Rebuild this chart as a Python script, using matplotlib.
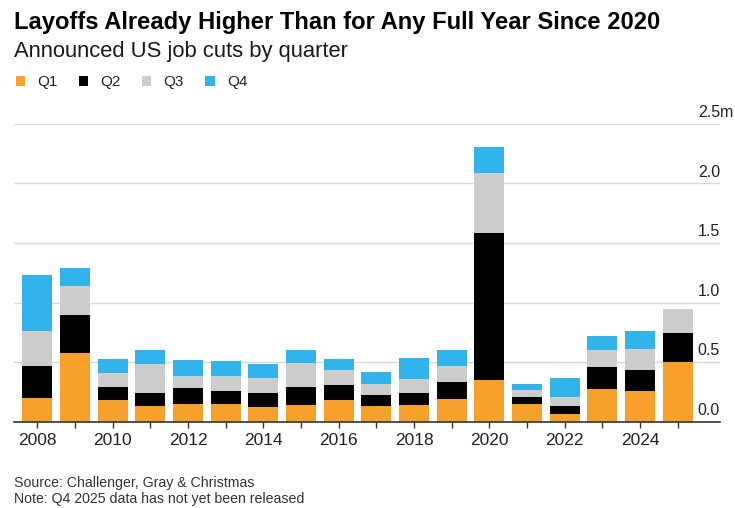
import matplotlib
matplotlib.use("Agg")
import matplotlib.pyplot as plt
from matplotlib.patches import Patch
import numpy as np

plt.rcParams['font.family'] = ['Liberation Sans', 'DejaVu Sans']

years = list(range(2008, 2026))
q1 = [0.20, 0.575, 0.18, 0.13, 0.145, 0.145, 0.12, 0.14, 0.18, 0.13, 0.14, 0.19, 0.35, 0.145, 0.06, 0.27, 0.255, 0.50]
q2 = [0.27, 0.32, 0.11, 0.11, 0.14, 0.11, 0.12, 0.15, 0.13, 0.095, 0.10, 0.14, 1.235, 0.06, 0.07, 0.185, 0.18, 0.245]
q3 = [0.29, 0.245, 0.12, 0.24, 0.10, 0.13, 0.125, 0.205, 0.125, 0.095, 0.12, 0.14, 0.50, 0.06, 0.08, 0.15, 0.175, 0.20]
q4 = [0.47, 0.15, 0.12, 0.125, 0.135, 0.125, 0.115, 0.105, 0.09, 0.10, 0.175, 0.13, 0.22, 0.055, 0.155, 0.115, 0.155, 0.0]

quarters = ["Q1", "Q2", "Q3", "Q4"]
colors = ["#F8A02C", "#000000", "#CCCCCC", "#31B4EC"]
yticks = [0.0, 0.5, 1.0, 1.5, 2.0, 2.5]
ylabels = ["0.0", "0.5", "1.0", "1.5", "2.0", "2.5"]

fig = plt.figure(figsize=(7.35, 5.08), dpi=100)
ax = fig.add_axes([0.019, 0.170, 0.9605, 0.586])

bottom = np.zeros(len(years))
for vals, c in zip([q1, q2, q3, q4], colors):
    ax.bar(years, vals, bottom=bottom, width=0.8, color=c, zorder=3)
    bottom += np.array(vals)

ax.set_xlim(2007.38, 2026.12)
ax.set_ylim(0, 2.5)

# gridlines, with the value labels sitting above them at the right end
ytrans = ax.get_yaxis_transform()
for v, lab in zip(yticks, ylabels):
    if v > 0:
        ax.axhline(v, color="#D9D9D9", lw=1, zorder=1)
    ax.annotate(lab, xy=(1.0, v), xycoords=ytrans, xytext=(0, 5),
                textcoords="offset points", ha="right", va="baseline",
                fontsize=11.5, color="#222222", annotation_clip=False)
# unit suffix hangs past the right edge on the top label
ax.annotate("m", xy=(1.0, yticks[-1]), xycoords=ytrans, xytext=(0, 5),
            textcoords="offset points", ha="left", va="baseline",
            fontsize=11.5, color="#222222", annotation_clip=False)

ax.set_yticks([])
for s in ["top", "right", "left"]:
    ax.spines[s].set_visible(False)
ax.spines["bottom"].set_color("#333333")
ax.spines["bottom"].set_linewidth(1.2)
ax.spines["bottom"].set_zorder(4)

ax.set_xticks(years[::2])
ax.set_xticks(years[1::2], minor=True)
ax.set_xticklabels([str(y) for y in years[::2]], fontsize=12.5, color="#222222")
ax.tick_params(axis="x", which="both", direction="out", length=4, width=1, color="#333333", pad=4.3)

# titles
fig.text(0.019, 0.943, "Layoffs Already Higher Than for Any Full Year Since 2020",
         fontsize=17.1, fontweight="bold", color="#000000", va="baseline")
fig.text(0.019, 0.887, "Announced US job cuts by quarter",
         fontsize=15.8, color="#1A1A1A", va="baseline")

handles = [Patch(facecolor=c, edgecolor="none") for c in colors]
fig.legend(handles, quarters, loc="center left", bbox_to_anchor=(16 / 735, 1 - 82.5 / 508),
           ncol=4, frameon=False, fontsize=11, handlelength=0.6, handleheight=0.6,
           handletextpad=0.8, columnspacing=1.4, borderpad=0, borderaxespad=0,
           labelcolor="#222222")

fig.text(0.019, 0.0413, "Source: Challenger, Gray & Christmas", fontsize=10.2, color="#333333", va="baseline")
fig.text(0.019, 0.0098, "Note: Q4 2025 data has not yet been released", fontsize=10.2, color="#333333", va="baseline")

fig.savefig("out.png", dpi=100)
